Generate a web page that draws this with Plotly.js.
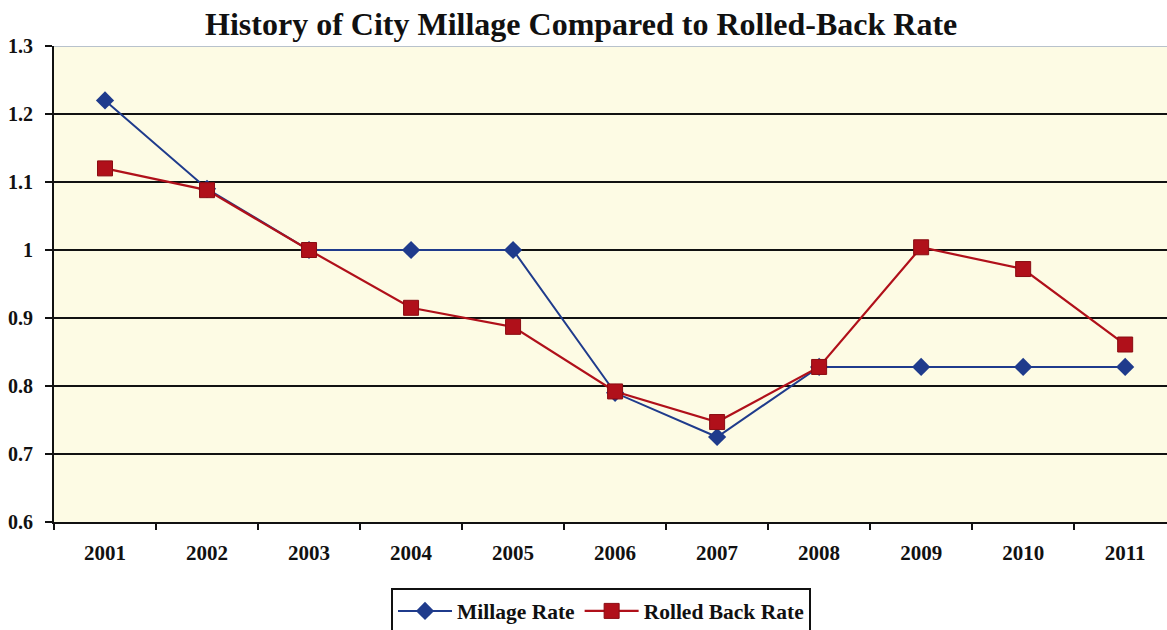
<!DOCTYPE html>
<html>
<head>
<meta charset="utf-8">
<script src="https://cdn.plot.ly/plotly-3.0.1.min.js"></script>
<style>
  html, body { margin: 0; padding: 0; background: #ffffff; }
  #chart { width: 1167px; height: 630px; }
</style>
</head>
<body>
<div id="chart"></div>
<script>
// Tax years shown along the bottom axis
const years = ['2001', '2002', '2003', '2004', '2005', '2006', '2007', '2008', '2009', '2010', '2011'];

// Adopted city millage per year
const millageRate = [1.22, 1.09, 1.0, 1.0, 1.0, 0.79, 0.725, 0.828, 0.828, 0.828, 0.828];

// Rolled-back rate per year
const rolledBackRate = [1.12, 1.088, 1.0, 0.915, 0.887, 0.792, 0.747, 0.828, 1.004, 0.972, 0.861];

// Value axis ticks
const yTickVals = [0.6, 0.7, 0.8, 0.9, 1.0, 1.1, 1.2, 1.3];
const yTickText = ['0.6', '0.7', '0.8', '0.9', '1', '1.1', '1.2', '1.3'];

const serif = 'Liberation Serif, Times New Roman, serif';

const traces = [
  {
    x: years, y: millageRate, name: 'Millage Rate',
    type: 'scatter', mode: 'lines+markers',
    line: { color: '#1f3b8c', width: 2 },
    marker: { symbol: 'diamond', size: 14, color: '#1f3b8c' }
  },
  {
    x: years, y: rolledBackRate, name: 'Rolled Back Rate',
    type: 'scatter', mode: 'lines+markers',
    line: { color: '#b0101a', width: 2.2 },
    marker: { symbol: 'square', size: 15, color: '#b0101a', line: { color: '#8a0c12', width: 1 } }
  }
];

const layout = {
  width: 1167, height: 630,
  paper_bgcolor: '#ffffff',
  plot_bgcolor: '#fdfbe4',
  margin: { l: 54, r: 0, t: 46, b: 108 },
  font: { family: serif, color: '#111111', size: 20, weight: 'bold' },
  title: {
    text: 'History of City Millage Compared to Rolled-Back Rate',
    font: { family: serif, size: 32, color: '#111111', weight: 'bold' },
    x: 0.498, xanchor: 'center', xref: 'container',
    y: 0.963, yanchor: 'middle', yref: 'container'
  },
  xaxis: {
    type: 'category',
    range: [-0.5, 10.41],
    showgrid: false,
    showline: true, linecolor: '#111111', linewidth: 2,
    ticks: 'outside', tickson: 'boundaries', ticklen: 6, tickwidth: 2, tickcolor: '#111111',
    ticklabelstandoff: 11,
    tickfont: { family: serif, size: 21, color: '#111111', weight: 'bold' },
    fixedrange: true
  },
  yaxis: {
    range: [0.6, 1.3],
    tickvals: yTickVals, ticktext: yTickText,
    showgrid: true, gridcolor: '#111111', gridwidth: 2,
    zeroline: false,
    showline: true, linecolor: '#111111', linewidth: 2,
    ticks: 'outside', ticklen: 7, tickwidth: 2, tickcolor: '#111111',
    ticklabelstandoff: 8,
    tickfont: { family: serif, size: 20, color: '#111111', weight: 'bold' },
    fixedrange: true
  },
  shapes: [
    // light frame line along the top of the plotting area
    { type: 'line', xref: 'paper', yref: 'y', x0: 0, x1: 1, y0: 1.3, y1: 1.3,
      line: { color: '#b8c2cc', width: 2 }, layer: 'above' }
  ],
  showlegend: true,
  legend: {
    orientation: 'h',
    xref: 'container', yref: 'container',
    x: 0.515, xanchor: 'center',
    y: 0.066, yanchor: 'top',
    bgcolor: '#ffffff',
    bordercolor: '#111111', borderwidth: 2,
    font: { family: serif, size: 21.5, color: '#111111', weight: 'bold' },
    traceorder: 'normal',
    itemwidth: 54
  }
};

Plotly.newPlot('chart', traces, layout, { displayModeBar: false, staticPlot: true });
</script>
</body>
</html>
